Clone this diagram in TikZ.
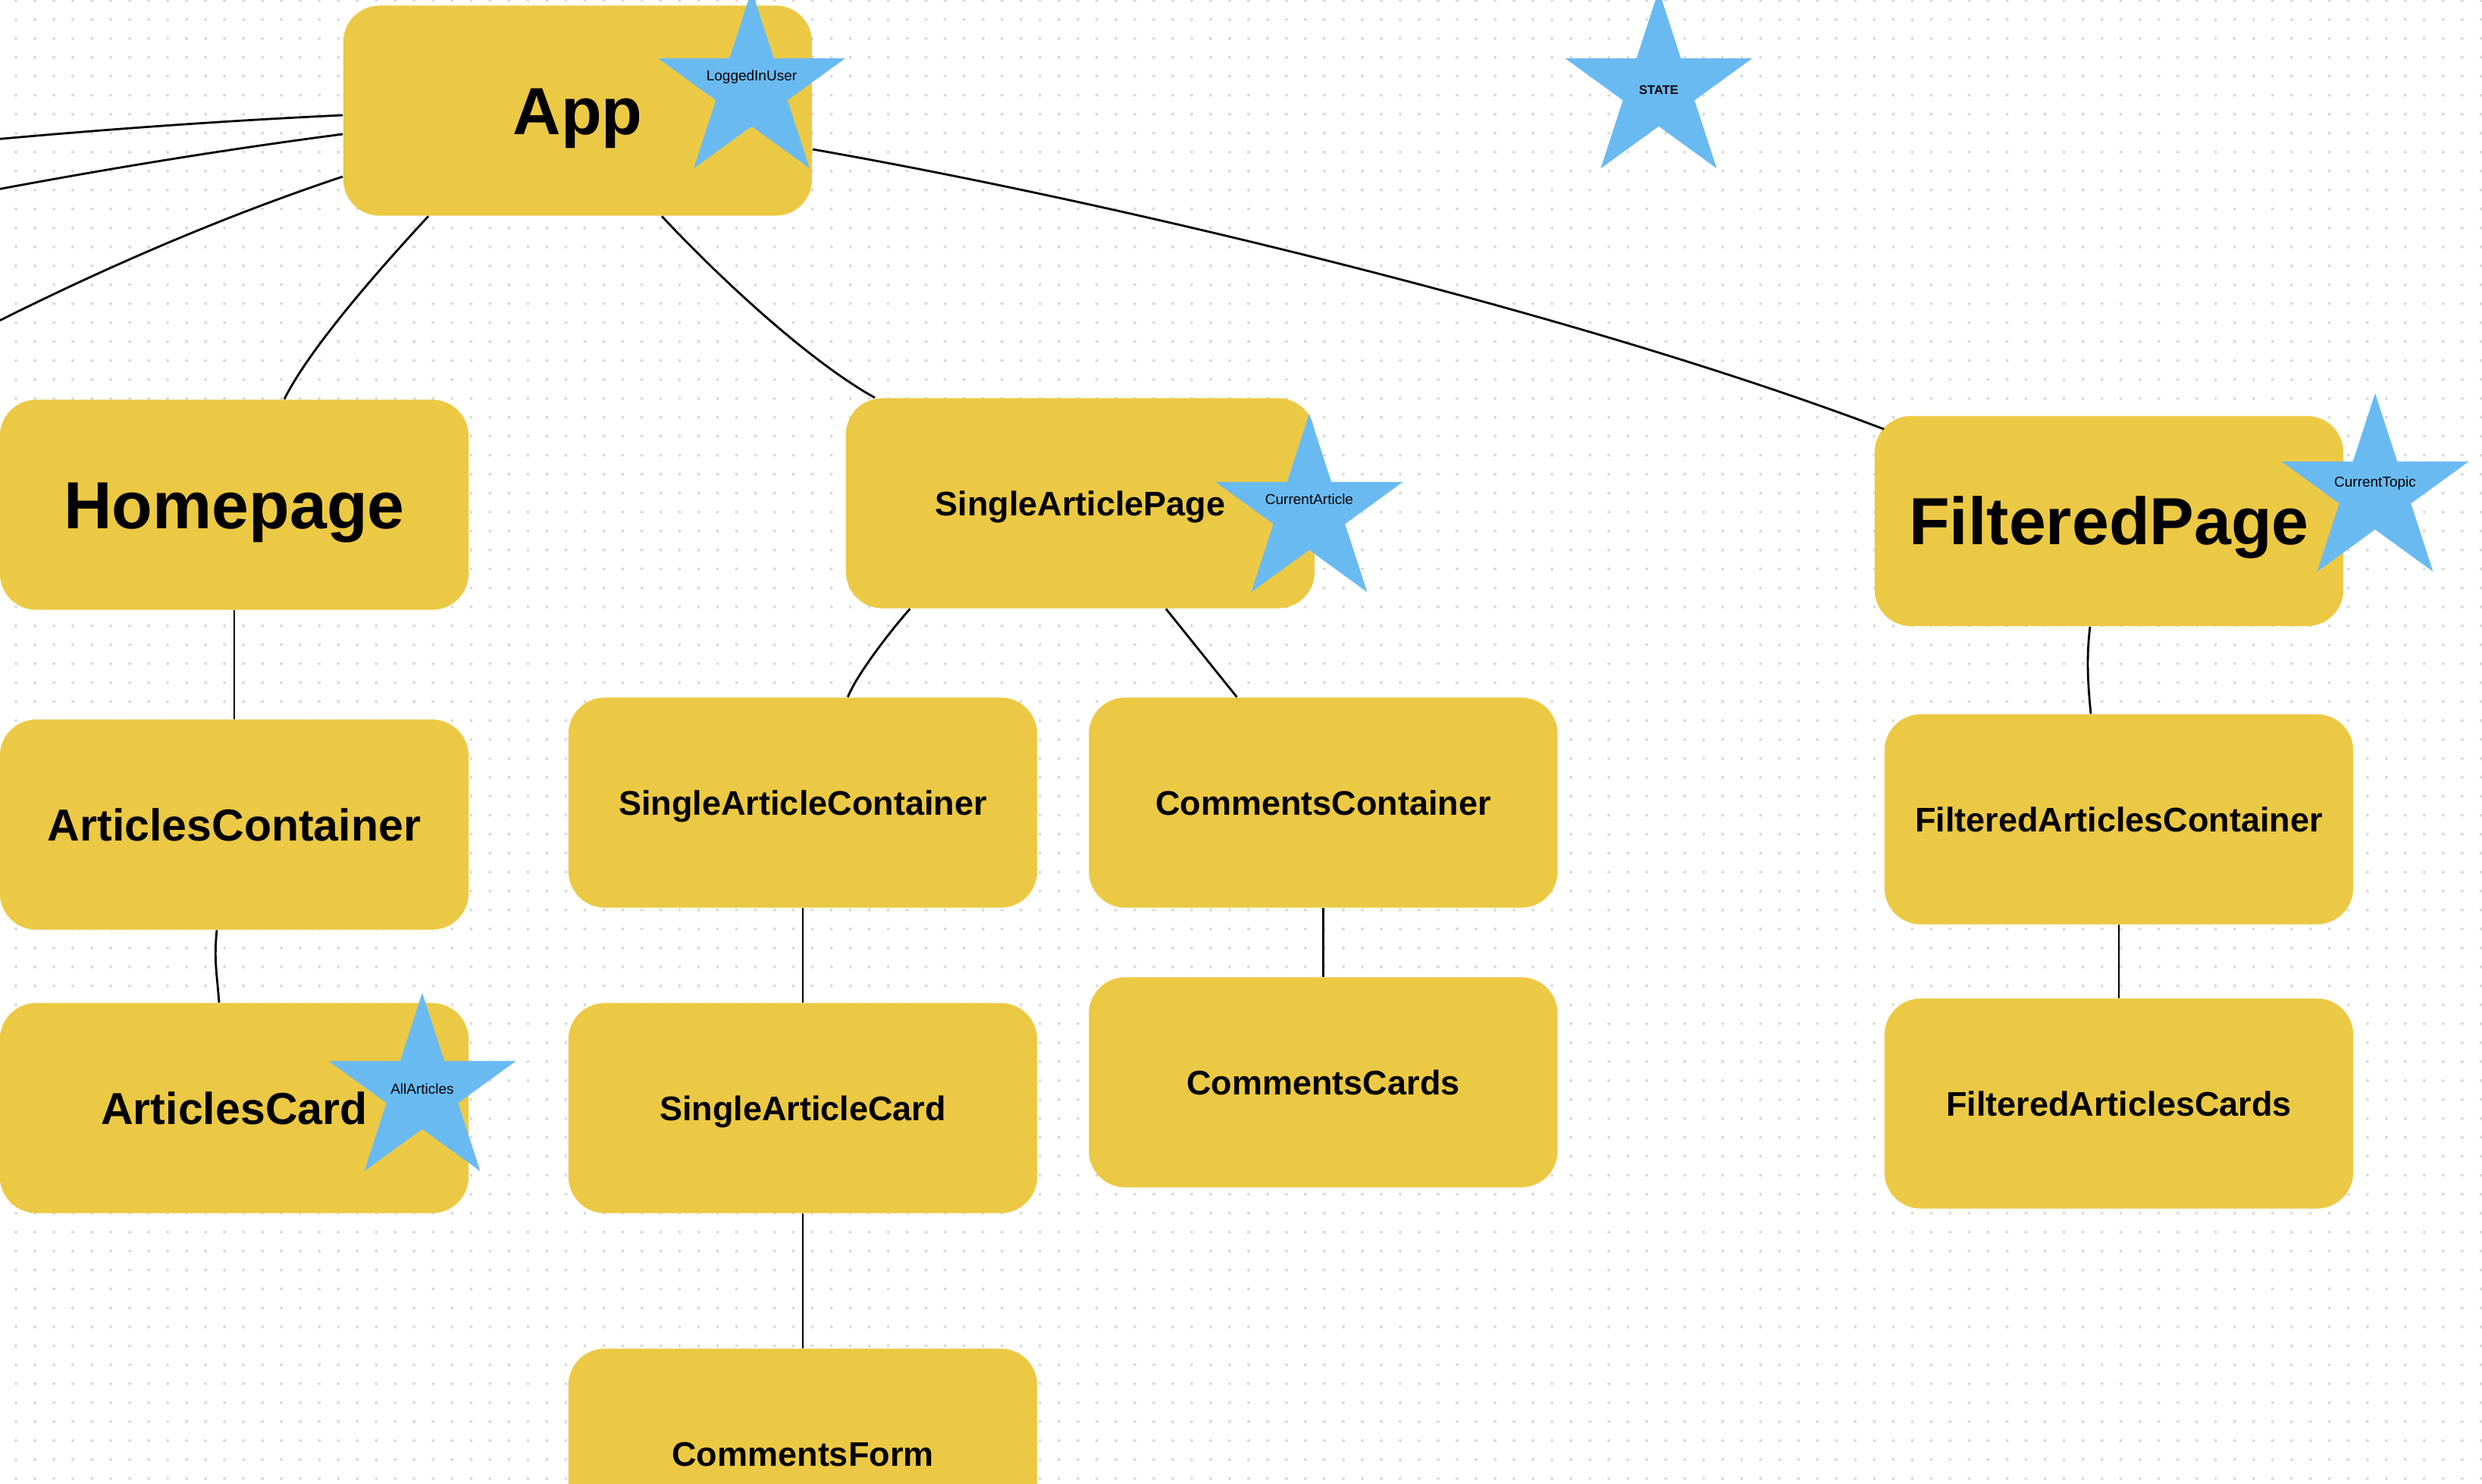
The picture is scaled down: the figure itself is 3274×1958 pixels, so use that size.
\documentclass[tikz,border=0pt]{standalone}
\usepackage{fontspec}
\setmainfont{Liberation Sans}
\usetikzlibrary{shapes.geometric,calc}
\definecolor{boxyellow}{HTML}{ECC944}
\definecolor{starblue}{HTML}{6ABAF2}
\definecolor{dotgray}{HTML}{DADADA}
\tikzset{
  comp/.style={rectangle, rounded corners=0.48cm, fill=boxyellow, minimum width=6.18cm,
    minimum height=2.77cm, inner sep=0pt, text depth=0pt},
  bigtxt/.style={font=\fontsize{25}{30}\selectfont\bfseries, text height=17.9pt},
  midtxt/.style={font=\fontsize{16.8}{20}\selectfont\bfseries, text height=12.0pt},
  smalltxt/.style={font=\fontsize{12.8}{15}\selectfont\bfseries, text height=9.2pt},
  statestar/.style={star, star points=5, star point ratio=2.618, minimum size=2.6cm,
    inner sep=0pt, fill=starblue},
  starlabel/.style={font=\fontsize{5.4}{6}\selectfont, anchor=base, inner sep=0pt},
  link/.style={line width=0.8pt, black},
}
\begin{document}
\begin{tikzpicture}[x=0.01cm, y=-0.01cm]
\useasboundingbox (0,0) rectangle (3274,1958);
\clip (0,0) rectangle (3274,1958);
\fill[white] (0,0) rectangle (3274,1958);
\foreach \j in {0,...,78} {
  \draw[dotgray, line width=0.04cm, line cap=round, dash pattern=on 0pt off 0.25cm]
    (21,{0.7+25*\j}) -- (3274,{0.7+25*\j});
}
% components
\node[comp, bigtxt] (app) at (762,146) {App};
\node[comp, bigtxt] (home) at (309,666) {Homepage};
\node[comp, smalltxt] (sap) at (1425,664) {SingleArticlePage};
\node[comp, bigtxt] (fp) at (2782,687.5) {FilteredPage};
\node[comp, midtxt] (ac) at (309,1088) {ArticlesContainer};
\node[comp, midtxt] (acard) at (309,1462) {ArticlesCard};
\node[comp, smalltxt] (sac) at (1059,1059) {SingleArticleContainer};
\node[comp, smalltxt] (cc) at (1745.5,1059) {CommentsContainer};
\node[comp, smalltxt] (fac) at (2795,1081) {FilteredArticlesContainer};
\node[comp, smalltxt] (sacard) at (1059,1462) {SingleArticleCard};
\node[comp, smalltxt] (ccards) at (1745.5,1428) {CommentsCards};
\node[comp, smalltxt] (facards) at (2795,1456) {FilteredArticlesCards};
\node[comp, smalltxt] (cform) at (1059,1918) {CommentsForm};
% state stars
\node[statestar] (s1) at (991.5,117) {};
\node[starlabel] (l1) at (991.5,107) {LoggedInUser};
\node[statestar] (s2) at (2188,117) {};
\node[starlabel, font=\fontsize{4.7}{6}\selectfont\bfseries] (l2) at (2188,124.3) {STATE};
\node[statestar] (s3) at (1727,676) {};
\node[starlabel] (l3) at (1727,666) {CurrentArticle};
\node[statestar] (s4) at (3133,649) {};
\node[starlabel] (l4) at (3133,643) {CurrentTopic};
\node[statestar] (s5) at (557,1440) {};
\node[starlabel] (l5) at (557,1443) {AllArticles};
% off-picture ends
\coordinate (offa) at (0,183.3);
\coordinate (offb) at (0,249.3);
\coordinate (offc) at (0,422.7);
% connectors
\draw[link] ($(app.west)+(0,6)$) .. controls +(-150,7) and +(150,-13.5) .. (offa);
\draw[link] ($(app.west)+(0,31)$) .. controls +(-150,19.5) and +(150,-28) .. (offb);
\draw[link] ($(app.west)+(0,87)$) .. controls +(-150,50) and +(150,-75) .. (offc);
\draw[link] ($(app.south)+(-197,0)$) .. controls +(-60,65) and +(35,-70) .. ($(home.north)+(66,0)$);
\draw[link] ($(app.south)+(111,0)$) .. controls +(70,75) and +(-90,-50) .. ($(sap.north)+(-271,0)$);
\draw[link] ($(app.east)+(0,51)$) .. controls +(400,70) and +(-400,-152) .. ($(fp.north west)+(13,18)$);
\draw[link] (home.south) -- (ac.north);
\draw[link] ($(ac.south)+(-23,0)$) .. controls +(-4,40) and +(-3,-40) .. ($(acard.north)+(-20,0)$);
\draw[link] ($(sap.south)+(-224.6,0)$) .. controls +(-25,28) and +(12,-30) .. ($(sac.north)+(59.3,0)$);
\draw[link] ($(sap.south)+(113,0)$) -- ($(cc.north)+(-114,0)$);
\draw[link] (sac.south) -- (sacard.north);
\draw[link] (sacard.south) -- (cform.north);
\draw[link] (cc.south) -- (ccards.north);
\draw[link] ($(fp.south)+(-25,0)$) .. controls +(-5,40) and +(-4,-40) .. ($(fac.north)+(-37,0)$);
\draw[link] (fac.south) -- (facards.north);
\end{tikzpicture}
\end{document}
